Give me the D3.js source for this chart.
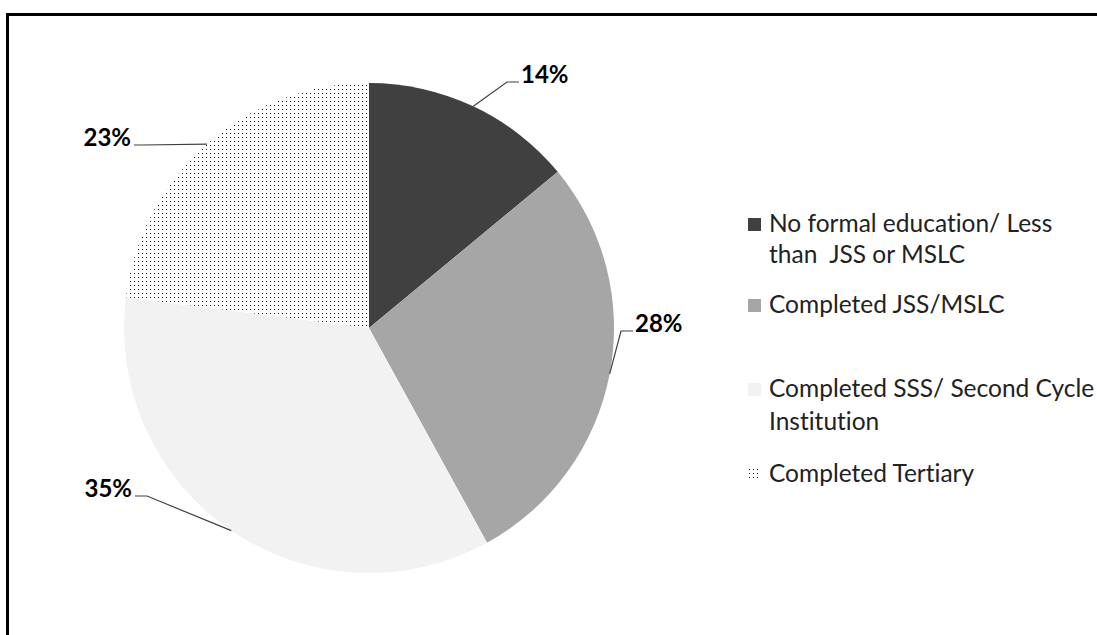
<!DOCTYPE html>
<html>
<head>
<meta charset="utf-8">
<script src="https://cdn.jsdelivr.net/npm/d3@7"></script>
<style>
  html, body { margin: 0; padding: 0; background: #fff; }
  svg { display: block; }
  text { font-variant-ligatures: none; font-feature-settings: "liga" 0; }
</style>
</head>
<body>
<svg id="chart" width="1097" height="635"></svg>
<script>
// Education attainment shares (percent)
const categories = [
  "No formal education/ Less than  JSS or MSLC",
  "Completed JSS/MSLC",
  "Completed SSS/ Second Cycle Institution",
  "Completed Tertiary"
];
const values = [14, 28, 35, 23];
const valueLabels = ["14%", "28%", "35%", "23%"];
// Legend entries wrapped onto lines
const legendLines = [
  ["No formal education/ Less", "than  JSS or MSLC"],
  ["Completed JSS/MSLC"],
  ["Completed SSS/ Second Cycle", "Institution"],
  ["Completed Tertiary"]
];

// Layout
const W = 1097, H = 635;
const cx = 369, cy = 328, R = 245;
const fills = ["#404040", "#a6a6a6", "#f2f2f2", "url(#dots)"];
// Where each value label sits, and which side the leader joins
const labelLayout = [
  { x: 521, y: 83,  anchor: "start", elbow: 12 },
  { x: 635, y: 332, anchor: "start", elbow: 12 },
  { x: 132, y: 497, anchor: "end",   elbow: 12 },
  { x: 131, y: 146, anchor: "end",   elbow: 8 }
];
const legendX = 748;
const legendBaselines = [[232, 263], [313], [397, 430], [482]];

const svg = d3.select("#chart");
const defs = svg.append("defs");

// Fine dot-grid fill
const pat = defs.append("pattern")
  .attr("id", "dots")
  .attr("patternUnits", "userSpaceOnUse")
  .attr("width", 4).attr("height", 4);
pat.append("rect").attr("width", 4).attr("height", 4).attr("fill", "#fff");
pat.append("rect").attr("x", 1).attr("y", 1).attr("width", 1).attr("height", 1).attr("fill", "#1a1a1a");

// Frame (extends past the right and bottom edges)
svg.append("rect")
  .attr("x", 7.5).attr("y", 14.5)
  .attr("width", W + 20).attr("height", H + 20)
  .attr("fill", "none")
  .attr("stroke", "#000")
  .attr("stroke-width", 3);

const pie = d3.pie().sort(null).value(d => d);
const arcs = pie(values);
const arc = d3.arc().innerRadius(0).outerRadius(R);

const g = svg.append("g").attr("transform", `translate(${cx},${cy})`);
g.selectAll("path.slice")
  .data(arcs)
  .join("path")
  .attr("class", "slice")
  .attr("d", arc)
  .attr("fill", (d, i) => fills[i]);

// Leader lines from the slice edge at its mid angle to the label
const lineGen = d3.line();
arcs.forEach((a, i) => {
  const mid = (a.startAngle + a.endAngle) / 2;
  const ex = cx + R * Math.sin(mid);
  const ey = cy - R * Math.cos(mid);
  const L = labelLayout[i];
  const endX = L.anchor === "start" ? L.x - 2 : L.x + 3;
  const elbowX = L.anchor === "start" ? endX - L.elbow : endX + L.elbow;
  const ly = L.y - 1;
  svg.append("path")
    .attr("d", lineGen([[ex, ey], [elbowX, ly], [endX, ly]]))
    .attr("fill", "none")
    .attr("stroke", "#404040")
    .attr("stroke-width", 1.2);
  svg.append("text")
    .attr("x", L.x).attr("y", L.y)
    .attr("text-anchor", L.anchor)
    .attr("font-family", "Lato, 'Open Sans', sans-serif")
    .attr("font-weight", "bold")
    .attr("font-size", 24)
    .attr("fill", "#000")
    .text(valueLabels[i]);
});

// Legend
const legend = svg.append("g");
categories.forEach((c, i) => {
  const base = legendBaselines[i];
  legend.append("rect")
    .attr("x", legendX).attr("y", base[0] - 14)
    .attr("width", 13).attr("height", 13)
    .attr("fill", fills[i]);
  legendLines[i].forEach((line, j) => {
    legend.append("text")
      .attr("x", legendX + 21).attr("y", base[j])
      .attr("font-family", "Lato, 'Open Sans', sans-serif")
      .attr("font-size", 24.5)
      .attr("fill", "#222")
      .attr("xml:space", "preserve")
      .style("white-space", "pre")
      .text(line);
  });
});
</script>
</body>
</html>
